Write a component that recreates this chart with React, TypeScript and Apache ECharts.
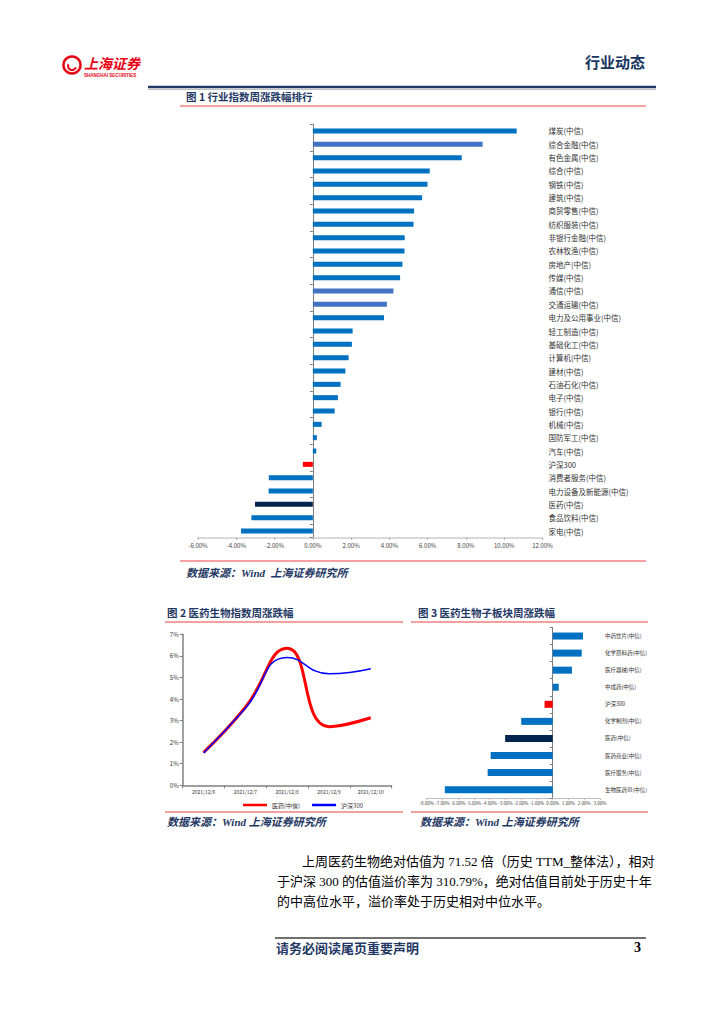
import React, { useEffect, useRef } from "react";
import * as echarts from "echarts";

// ---------- Figure 1: industry weekly change (%) ----------
const industryNames = [
  "煤炭(中信)", "综合金融(中信)", "有色金属(中信)", "综合(中信)", "钢铁(中信)",
  "建筑(中信)", "商贸零售(中信)", "纺织服装(中信)", "非银行金融(中信)", "农林牧渔(中信)",
  "房地产(中信)", "传媒(中信)", "通信(中信)", "交通运输(中信)", "电力及公用事业(中信)",
  "轻工制造(中信)", "基础化工(中信)", "计算机(中信)", "建材(中信)", "石油石化(中信)",
  "电子(中信)", "银行(中信)", "机械(中信)", "国防军工(中信)", "汽车(中信)",
  "沪深300", "消费者服务(中信)", "电力设备及新能源(中信)", "医药(中信)", "食品饮料(中信)",
  "家电(中信)",
];
const industryChanges = [
  10.65, 8.87, 7.78, 6.11, 5.99,
  5.71, 5.29, 5.26, 4.80, 4.79,
  4.68, 4.56, 4.21, 3.87, 3.72,
  2.08, 2.04, 1.87, 1.70, 1.45,
  1.31, 1.14, 0.46, 0.21, 0.18,
  -0.52, -2.30, -2.31, -3.02, -3.21,
  -3.75,
];
const fig1AxisMin = -6;
const fig1AxisMax = 12;
const fig1AxisStep = 2;

// ---------- Figure 2: pharma index vs HS300 (%) ----------
const lineDates = ["2021/12/6", "2021/12/7", "2021/12/8", "2021/12/9", "2021/12/10"];
const pharmaSeries = [1.53, 3.62, 6.35, 2.72, 3.13];
const hs300Series = [1.5, 3.57, 5.93, 5.17, 5.40];
const fig2AxisMax = 7;

// ---------- Figure 3: pharma sub-sector weekly change (%) ----------
const subNames = [
  "中药饮片(中信)", "化学原料药(中信)", "医疗器械(中信)", "中成药(中信)", "沪深300",
  "化学制剂(中信)", "医药(中信)", "医药商业(中信)", "医疗服务(中信)", "生物医药Ⅲ(中信)",
];
const subChanges = [1.92, 1.84, 1.22, 0.38, -0.52, -2.0, -3.02, -3.94, -4.13, -6.85];
const fig3AxisMin = -8;
const fig3AxisMax = 3;

const NAVY = "#1F3864";
const RED_LINE = "#F08080";
const CJK = "'Noto Sans CJK SC', 'Noto Sans', sans-serif";
const SERIF = "'Liberation Serif', 'Noto Sans CJK SC', serif";

const LIGHT_SET = new Set(["综合金融(中信)", "通信(中信)", "交通运输(中信)"]);
function barColor(name: string): string {
  if (name === "沪深300") return "#FF0000";
  if (name === "医药(中信)") return "#00264F";
  if (LIGHT_SET.has(name)) return "#4472C4";
  return "#0070C0";
}

function txt(text: string, x: number, y: number, font: string, fill: string, align = "left") {
  return {
    type: "text",
    style: {
      text, x, y, font, fill,
      align, verticalAlign: "middle",
      textAlign: align, textVerticalAlign: "middle",
    },
  };
}
function hline(x1: number, x2: number, y: number, stroke: string, lineWidth: number) {
  return { type: "line", shape: { x1, y1: y, x2, y2: y }, style: { stroke, lineWidth } };
}

export default function App() {
  const ref = useRef<HTMLDivElement>(null);
  useEffect(() => {
    if (!ref.current) return;
    const chart = echarts.init(ref.current, undefined, { renderer: "svg" });
    const pct2 = (v: number) => v.toFixed(2) + "%";
    const option: any = {
      animation: false,
      backgroundColor: "#FFFFFF",
      textStyle: { fontFamily: CJK },
      grid: [
        { left: 198, top: 124.3, width: 344.5, height: 413.4 },
        { left: 182.7, top: 634.3, width: 209, height: 151 },
        { left: 426.7, top: 627.5, width: 173.3, height: 170.7 },
      ],
      legend: {
        data: [
          { name: "医药(中信)", icon: "rect", itemStyle: { color: "#FF0000" } },
          { name: "沪深300", icon: "rect", itemStyle: { color: "#0000FF" } },
        ],
        left: 238,
        top: 797,
        itemWidth: 24,
        itemHeight: 2.5,
        itemGap: 12,
        textStyle: { fontSize: 6, color: "#333", fontFamily: CJK },
      },
      xAxis: [
        {
          type: "value", gridIndex: 0, min: fig1AxisMin, max: fig1AxisMax, interval: fig1AxisStep,
          axisLine: { show: true, lineStyle: { color: "#D9D9D9", width: 2 } },
          axisTick: { show: true, length: 2, lineStyle: { color: "#A6A6A6" } },
          axisLabel: { fontSize: 6, color: "#404040", formatter: pct2, margin: 5 },
          splitLine: { show: false },
        },
        {
          type: "category", gridIndex: 1, data: lineDates, boundaryGap: true,
          axisLine: { show: true, lineStyle: { color: "#808080", width: 1.5 } },
          axisTick: { show: true, length: 3, lineStyle: { color: "#808080" } },
          axisLabel: { fontSize: 5, color: "#333", margin: 4 },
          splitLine: { show: false },
        },
        {
          type: "value", gridIndex: 2, min: fig3AxisMin, max: fig3AxisMax, interval: 1,
          axisLine: { show: true, lineStyle: { color: "#BFBFBF", width: 1 } },
          axisTick: { show: true, length: 2, lineStyle: { color: "#BFBFBF" } },
          axisLabel: { fontSize: 4.5, color: "#404040", formatter: pct2, margin: 3 },
          splitLine: { show: false },
        },
      ],
      yAxis: [
        {
          type: "category", gridIndex: 0, inverse: true, data: industryNames,
          axisLine: { show: true, onZero: true, lineStyle: { color: "#7F7F7F", width: 1 } },
          axisTick: { show: true, length: 3, lineStyle: { color: "#7F7F7F" } },
          axisLabel: { show: false },
        },
        {
          type: "category", gridIndex: 0, inverse: true, data: industryNames, position: "right",
          axisLine: { show: false, onZero: false },
          axisTick: { show: false },
          axisLabel: { show: true, fontSize: 7.5, color: "#333", margin: 6, fontFamily: CJK },
        },
        {
          type: "value", gridIndex: 1, min: 0, max: fig2AxisMax, interval: 1,
          axisLine: { show: true, lineStyle: { color: "#808080", width: 1.5 } },
          axisTick: { show: true, length: 3, lineStyle: { color: "#808080" } },
          axisLabel: { fontSize: 6, color: "#333", formatter: "{value}%", margin: 4 },
          splitLine: { show: false },
        },
        {
          type: "category", gridIndex: 2, inverse: true, data: subNames,
          axisLine: { show: true, onZero: true, lineStyle: { color: "#7F7F7F", width: 1 } },
          axisTick: { show: true, length: 3, lineStyle: { color: "#7F7F7F" } },
          axisLabel: { show: false },
        },
        {
          type: "category", gridIndex: 2, inverse: true, data: subNames, position: "right",
          axisLine: { show: false, onZero: false },
          axisTick: { show: false },
          axisLabel: { show: true, fontSize: 5.5, color: "#333", margin: 5, fontFamily: CJK },
        },
      ],
      series: [
        {
          type: "bar", xAxisIndex: 0, yAxisIndex: 0, barWidth: 5,
          data: industryChanges.map((v, i) => ({ value: v, itemStyle: { color: barColor(industryNames[i]) } })),
        },
        {
          type: "line", name: "医药(中信)", xAxisIndex: 1, yAxisIndex: 2, data: pharmaSeries,
          smooth: true, symbol: "none", color: "#FF0000",
          lineStyle: { color: "#FF0000", width: 3 },
        },
        {
          type: "line", name: "沪深300", xAxisIndex: 1, yAxisIndex: 2, data: hs300Series,
          smooth: true, symbol: "none", color: "#0000FF",
          lineStyle: { color: "#0000FF", width: 1.5 },
        },
        {
          type: "bar", xAxisIndex: 2, yAxisIndex: 3, barWidth: 7,
          data: subChanges.map((v, i) => ({ value: v, itemStyle: { color: barColor(subNames[i]) } })),
        },
      ],
      graphic: [
        // logo
        { type: "circle", shape: { cx: 72, cy: 65, r: 8.5 }, style: { fill: "none", stroke: "#E60012", lineWidth: 2.5 } },
        { type: "arc", shape: { cx: 72, cy: 66, r: 4, startAngle: 0.3, endAngle: 3.6 }, style: { fill: "none", stroke: "#E60012", lineWidth: 2 } },
        txt("上海证券", 84, 63, `italic bold 14px ${CJK}`, "#E60012"),
        txt("SHANGHAI SECURITIES", 84, 75, `bold 4.5px 'Liberation Sans', sans-serif`, "#E60012"),
        // header
        txt("行业动态", 645, 61, `bold 15px ${CJK}`, "#17365D", "right"),
        hline(148, 656, 87, NAVY, 2.5),
        hline(148, 656, 89.5, "#BFBFBF", 1),
        // figure 1
        txt("图 1 行业指数周涨跌幅排行", 186, 96, `bold 10.5px ${CJK}`, NAVY),
        hline(180, 646, 106, RED_LINE, 1.5),
        hline(180, 646, 561, RED_LINE, 1.5),
        txt("数据来源：Wind  上海证券研究所", 186, 573, `italic bold 11px ${SERIF}`, NAVY),
        // figures 2 & 3
        txt("图 2 医药生物指数周涨跌幅", 167, 612, `bold 10.5px ${CJK}`, NAVY),
        txt("图 3 医药生物子板块周涨跌幅", 418, 612, `bold 10.5px ${CJK}`, NAVY),
        hline(165, 403, 622, RED_LINE, 1.5),
        hline(411, 648, 622, RED_LINE, 1.5),
        hline(165, 403, 812, RED_LINE, 1.5),
        hline(411, 648, 812, RED_LINE, 1.5),
        txt("数据来源：Wind 上海证券研究所", 167, 822, `italic bold 11px ${SERIF}`, NAVY),
        txt("数据来源：Wind 上海证券研究所", 420, 822, `italic bold 11px ${SERIF}`, NAVY),
        // body
        txt("上周医药生物绝对估值为 71.52 倍（历史 TTM_整体法），相对", 302, 861, `13px ${SERIF}`, "#000"),
        txt("于沪深 300 的估值溢价率为 310.79%，绝对估值目前处于历史十年", 277, 881, `13px ${SERIF}`, "#000"),
        txt("的中高位水平，溢价率处于历史相对中位水平。", 277, 901, `13px ${SERIF}`, "#000"),
        // footer
        hline(275, 646, 938, "#404040", 1.5),
        txt("请务必阅读尾页重要声明", 276, 947, `bold 13px ${CJK}`, NAVY),
        txt("3", 634, 947, `bold 14px ${SERIF}`, "#000"),
      ],
    };
    chart.setOption(option);
    return () => chart.dispose();
  }, []);
  return (
    <div
      ref={ref}
      style={{ position: "absolute", left: 0, top: 0, width: 724, height: 1024, background: "#fff" }}
    />
  );
}
